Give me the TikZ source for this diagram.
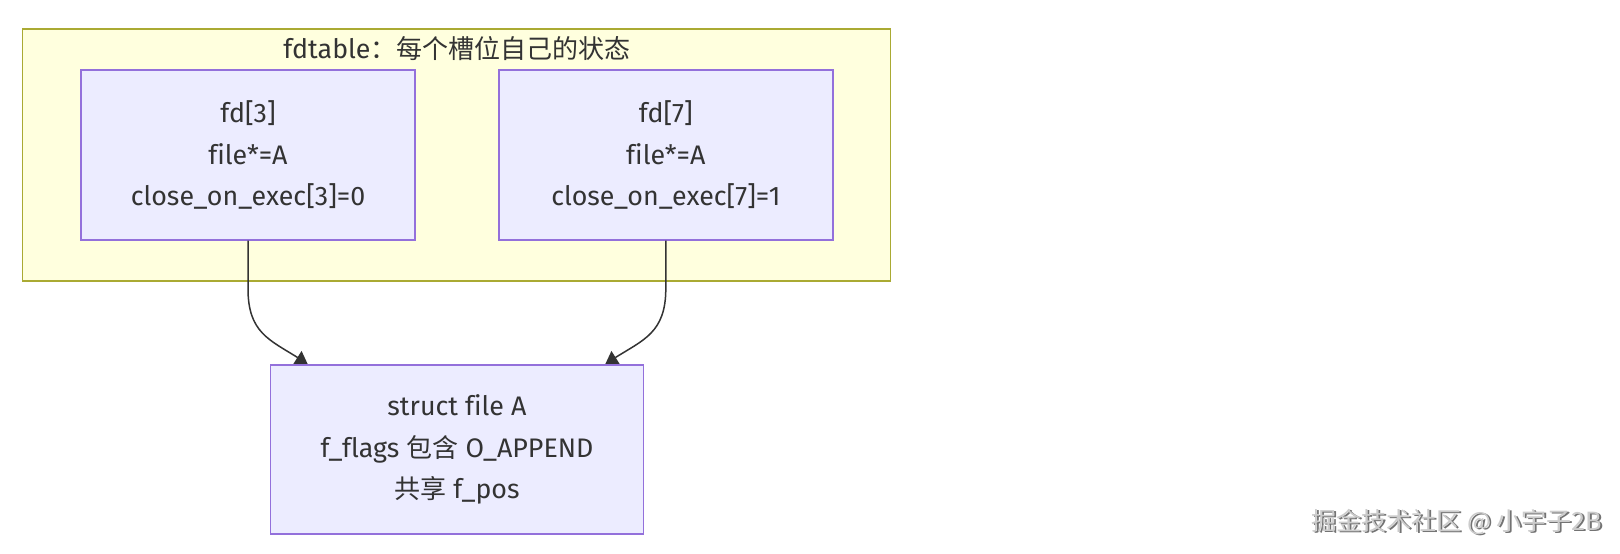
\documentclass[tikz,border=0pt]{standalone}
\usepackage{fontspec}
\setmainfont{Fira Sans}[Ligatures={NoCommon}]
\newfontfamily\cjk{Noto Sans CJK SC}
\usetikzlibrary{arrows.meta,calc}
\definecolor{clfill}{HTML}{FFFFDE}
\definecolor{cldraw}{HTML}{AAAA33}
\definecolor{bxfill}{HTML}{ECECFF}
\definecolor{bxdraw}{HTML}{9370DB}
\definecolor{txt}{HTML}{333333}
\newcommand{\zh}[1]{{\cjk\fontsize{26}{41.3}\selectfont #1}}
\tikzset{
  cluster/.style={draw=cldraw, fill=clfill, line width=1.6pt, inner sep=0pt},
  fdbox/.style={draw=bxdraw, fill=bxfill, line width=1.8pt, inner sep=0pt,
    align=center, text=txt, font=\fontsize{26.8}{41.3}\selectfont},
  link/.style={draw=txt, line width=1.5pt, -{Triangle[length=12pt,width=15pt]}},
  wm/.style={font=\cjk\fontsize{25}{30}\selectfont}
}
\begin{document}
\begin{tikzpicture}[x=1pt,y=-1pt]
\useasboundingbox[fill=white] (0,0) rectangle (1620,554);
\node[cluster, minimum width=868pt, minimum height=252pt] (cl) at (456.6,155) {};
\node[text=txt, font=\fontsize{26.8}{30}\selectfont] (title) at (457,49) {fdtable\zh{：每个槽位自己的状态}};
\node[fdbox, minimum width=334.7pt, minimum height=169.5pt] (fd3) at (248,155)
  {fd[3]\\file*=A\\close\_on\_exec[3]=0};
\node[fdbox, minimum width=333.6pt, minimum height=169.5pt] (fd7) at (665.8,155)
  {fd[7]\\file*=A\\close\_on\_exec[7]=1};
\node[fdbox, minimum width=373pt, minimum height=169.3pt] (fa) at (457,449.4)
  {struct file A\\f\_flags \zh{包含} O\_APPEND\\\zh{共享} f\_pos};
\coordinate (fa1) at ($(fa.north west)+(38,0)$);
\coordinate (fa2) at ($(fa.north east)+(-39,0)$);
\draw[link] (fd3.south) -- ($(fd3.south)+(0,48)$) .. controls ($(fd3.south)+(0,92)$) and ($(fa1)+(-38,-24)$) .. (fa1);
\draw[link] (fd7.south) -- ($(fd7.south)+(0,48)$) .. controls ($(fd7.south)+(0,92)$) and ($(fa2)+(38,-24)$) .. (fa2);
\node[wm, text=black!55] (wmshadow) at (1458.5,523.5) {掘金技术社区 @ 小宇子2B};
\node[wm, text=black!20] (wmtext) at (1457,522) {掘金技术社区 @ 小宇子2B};
\end{tikzpicture}
\end{document}
